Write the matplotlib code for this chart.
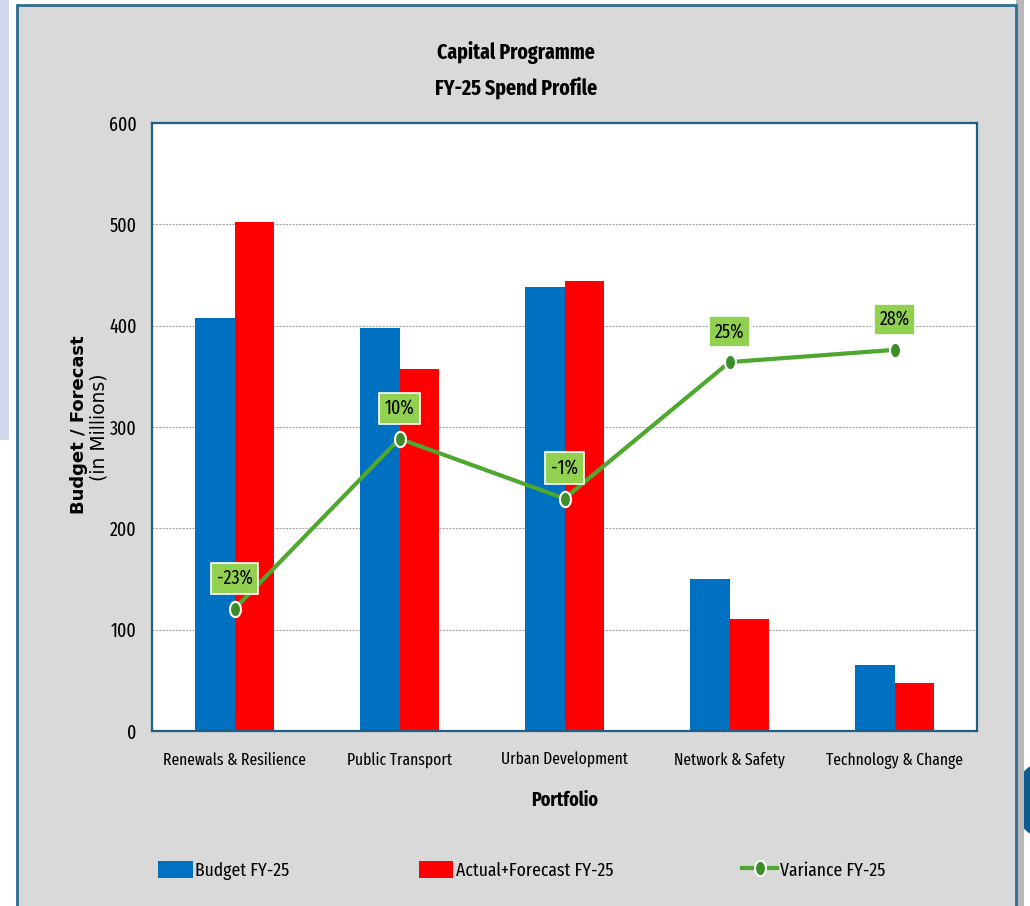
import matplotlib
matplotlib.use("Agg")
import matplotlib.pyplot as plt
from matplotlib.patches import Rectangle, Circle, Patch
from matplotlib.lines import Line2D
from matplotlib.path import Path
import numpy as np

# ---- data ----
categories = ["Renewals & Resilience", "Public Transport", "Urban Development",
              "Network & Safety", "Technology & Change"]
budget = [408, 398, 438, 150, 65]
actual_forecast = [502, 357, 444, 111, 47]
variance_pct = [-23.0, 10.3, -1.4, 25.3, 27.7]
y_ticks = [0, 100, 200, 300, 400, 500, 600]

NARROW = ["Fira Sans Extra Condensed", "Fira Sans Condensed", "IBM Plex Sans Condensed",
          "Liberation Sans Narrow", "Liberation Sans", "DejaVu Sans"]
WIDE = ["DejaVu Sans"]

W, H = 1030, 906
fig = plt.figure(figsize=(W / 100, H / 100), dpi=100)
fig.patch.set_facecolor("white")

def fx(px):
    return px / W

def fy(py):
    return 1 - py / H

# background decorations
fig.add_artist(Rectangle((0, fy(440)), fx(9), 440 / H, transform=fig.transFigure,
                         facecolor="#d0d8ee", edgecolor="none", zorder=0))
fig.add_artist(Rectangle((fx(1016), 0), fx(8), 1, transform=fig.transFigure,
                         facecolor="#b8b8b8", edgecolor="none", zorder=0.5))
fig.add_artist(Circle((fx(1062), fy(800)), fx(50), transform=fig.transFigure,
                      facecolor="#0d5c8f", edgecolor="none", zorder=0.4))
# grey panel
fig.add_artist(Rectangle((fx(17), -0.01), fx(1016 - 17), fy(5) + 0.01,
                         transform=fig.transFigure, facecolor="#d9d9d9",
                         edgecolor="#2c6e91", linewidth=2, zorder=1))

ax = fig.add_axes([fx(152), fy(731), fx(977 - 152), (731 - 123) / H])
ax.set_zorder(2)
ax.set_facecolor("white")

x = np.arange(len(categories))
bw = 0.24
ax.bar(x - bw / 2, budget, width=bw, color="#0070c0", label="Budget FY-25", zorder=2)
ax.bar(x + bw / 2, actual_forecast, width=bw, color="#ff0000",
       label="Actual+Forecast FY-25", zorder=2)

ax.set_xlim(-0.5, len(categories) - 0.5)
ax.set_ylim(0, 600)
ax.set_yticks(y_ticks)
ax.set_yticklabels([str(t) for t in y_ticks], family=NARROW, fontsize=14)
ax.set_xticks(x)
ax.set_xticklabels(categories, family=NARROW, fontsize=12.2)
ax.tick_params(axis="y", length=0, pad=11)
ax.tick_params(axis="x", length=0, pad=15)
ax.yaxis.grid(True, color="#a6a6a6", linestyle=(0, (2, 1)), linewidth=0.8, zorder=0)
ax.set_axisbelow(True)
for s in ax.spines.values():
    s.set_color("#1f5f85")
    s.set_linewidth(1.6)

# elliptical marker (taller than wide)
t = np.linspace(0, 2 * np.pi, 40)
ellipse = Path(np.column_stack([0.72 * np.cos(t), np.sin(t)]), closed=True)

# variance line on hidden secondary axis
ax2 = ax.twinx()
ax2.set_ylim(-46.9, 72.1)
ax2.axis("off")
ax2.plot(x, variance_pct, color="#4ea72e", linewidth=3, marker=ellipse, markersize=11,
         markerfacecolor="#3c8d2a", markeredgecolor="white", markeredgewidth=1.5,
         zorder=5, label="Variance FY-25")
for xi, v in zip(x, variance_pct):
    ax2.annotate(f"{v:.0f}%", (xi, v), xytext=(0, 22), textcoords="offset points",
                 ha="center", va="center", family=NARROW, fontsize=14,
                 bbox=dict(boxstyle="square,pad=0.3", facecolor="#92d050",
                           edgecolor="white", linewidth=1.2), zorder=6)

# titles / labels
fig.text(fx(516), fy(52), "Capital Programme", ha="center", va="center",
         family=NARROW, fontsize=15.5, fontweight="bold")
fig.text(fx(516), fy(88), "FY-25 Spend Profile", ha="center", va="center",
         family=NARROW, fontsize=15.5, fontweight="bold")
fig.text(fx(79), fy(425), "Budget / Forecast", rotation=90, ha="center", va="center",
         family=WIDE, fontsize=13, fontweight="bold")
fig.text(fx(99), fy(427), "(in Millions)", rotation=90, ha="center", va="center",
         family=WIDE, fontsize=13.5)
fig.text(fx(565), fy(800), "Portfolio", ha="center", va="center",
         family=NARROW, fontsize=14, fontweight="bold")

# legend
handles = [Patch(facecolor="#0070c0", edgecolor="none"),
           Patch(facecolor="#ff0000", edgecolor="none"),
           Line2D([0], [0], color="#4ea72e", linewidth=3, marker=ellipse, markersize=11,
                  markerfacecolor="#3c8d2a", markeredgecolor="white",
                  markeredgewidth=1.5)]
labels = ["Budget FY-25", "Actual+Forecast FY-25", "Variance FY-25"]
leg = fig.legend(handles, labels, loc="lower left",
                 bbox_to_anchor=(fx(158), fy(880), fx(885 - 158), 0.02),
                 ncol=3, mode="expand", frameon=False, borderpad=0, borderaxespad=0,
                 handlelength=1.8, handleheight=1.0, handletextpad=0.15,
                 prop={"family": NARROW, "size": 13.8})
leg.set_zorder(3)

fig.savefig("out.png", dpi=100, facecolor=fig.get_facecolor())
